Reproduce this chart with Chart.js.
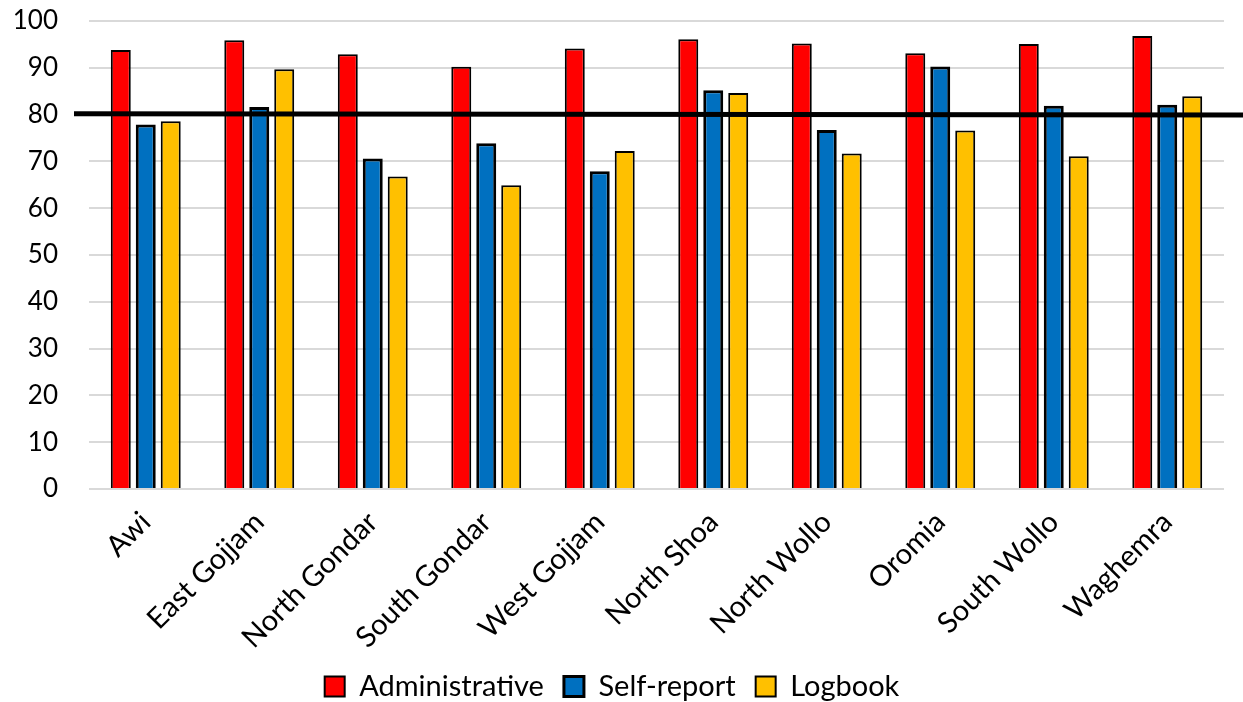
<!DOCTYPE html>
<html>
<head>
<meta charset="utf-8">
<script src="https://cdn.jsdelivr.net/npm/chart.js@4"></script>
<style>
    html, body { margin: 0; padding: 0; background: #fff; }
    #wrap { width: 1243px; height: 702px; }
</style>
</head>
<body>
<div id="wrap"><canvas id="myChart" width="1243" height="702"></canvas></div>
<script>
// 数据
var zones = ['Awi', 'East Gojjam', 'North Gondar', 'South Gondar', 'West Gojjam',
    'North Shoa', 'North Wollo', 'Oromia', 'South Wollo', 'Waghemra'];
var administrative = [93.8, 95.9, 92.9, 90.2, 94.1, 96.1, 95.2, 93.1, 95.1, 96.8];
var selfReport = [77.9, 81.6, 70.6, 73.9, 67.9, 85.2, 76.7, 90.3, 81.9, 82.1];
var logbook = [78.6, 89.7, 66.8, 64.9, 72.2, 84.6, 71.7, 76.6, 71.1, 83.9];
var yTicks = [0, 10, 20, 30, 40, 50, 60, 70, 80, 90, 100];
// 参考线 (左端, 右端)
var refLine = [80.2, 79.9];

var fontFamily = 'Lato, "Open Sans", sans-serif';

/**
 * 画参考线
 */
var refLinePlugin = {
    id: 'refLine',
    afterDatasetsDraw: function (chart) {
        var ctx = chart.ctx,
            y = chart.scales.y;
        ctx.save();
        ctx.strokeStyle = '#000';
        ctx.lineWidth = 5;
        ctx.beginPath();
        ctx.moveTo(74, y.getPixelForValue(refLine[0]));
        ctx.lineTo(chart.width, y.getPixelForValue(refLine[1]));
        ctx.stroke();
        ctx.restore();
    }
};

var ctx = document.getElementById('myChart').getContext('2d');
var chart = new Chart(ctx, {
    type: 'bar',
    data: {
        labels: zones,
        datasets: [{
            label: 'Administrative',
            backgroundColor: '#ff0000',
            borderColor: '#000',
            borderWidth: 2,
            data: administrative
        }, {
            label: 'Self-report',
            backgroundColor: '#0070c0',
            borderColor: '#000',
            borderWidth: 3,
            data: selfReport
        }, {
            label: 'Logbook',
            backgroundColor: '#ffc000',
            borderColor: '#000',
            borderWidth: 2,
            data: logbook
        }]
    },
    options: {
        responsive: false,
        animation: false,
        categoryPercentage: 0.66,
        barPercentage: 0.8,
        layout: {padding: {top: 0, right: 19, left: 0, bottom: -9}},
        plugins: {
            tooltip: {enabled: false},
            legend: {
                position: 'bottom',
                labels: {
                    color: '#000',
                    font: {family: fontFamily, size: 29},
                    boxWidth: 20,
                    boxHeight: 20,
                    padding: 20
                }
            }
        },
        scales: {
            x: {
                afterFit: function (scale) {
                    scale.height = 163;
                },
                grid: {display: false},
                border: {display: false},
                ticks: {
                    color: '#000',
                    font: {family: fontFamily, size: 29},
                    minRotation: 45,
                    maxRotation: 45,
                    padding: 8
                }
            },
            y: {
                min: 0,
                max: 100,
                afterBuildTicks: function (scale) {
                    scale.ticks = yTicks.map(function (v) { return {value: v}; });
                },
                afterFit: function (scale) {
                    scale.width = 89;
                    scale.paddingTop = 21;
                    scale.paddingBottom = 0;
                },
                grid: {color: '#d9d9d9', lineWidth: 2, drawTicks: false},
                border: {display: false},
                ticks: {
                    color: '#000',
                    font: {family: fontFamily, size: 26},
                    padding: 31
                }
            }
        }
    },
    plugins: [refLinePlugin]
});
</script>
</body>
</html>
